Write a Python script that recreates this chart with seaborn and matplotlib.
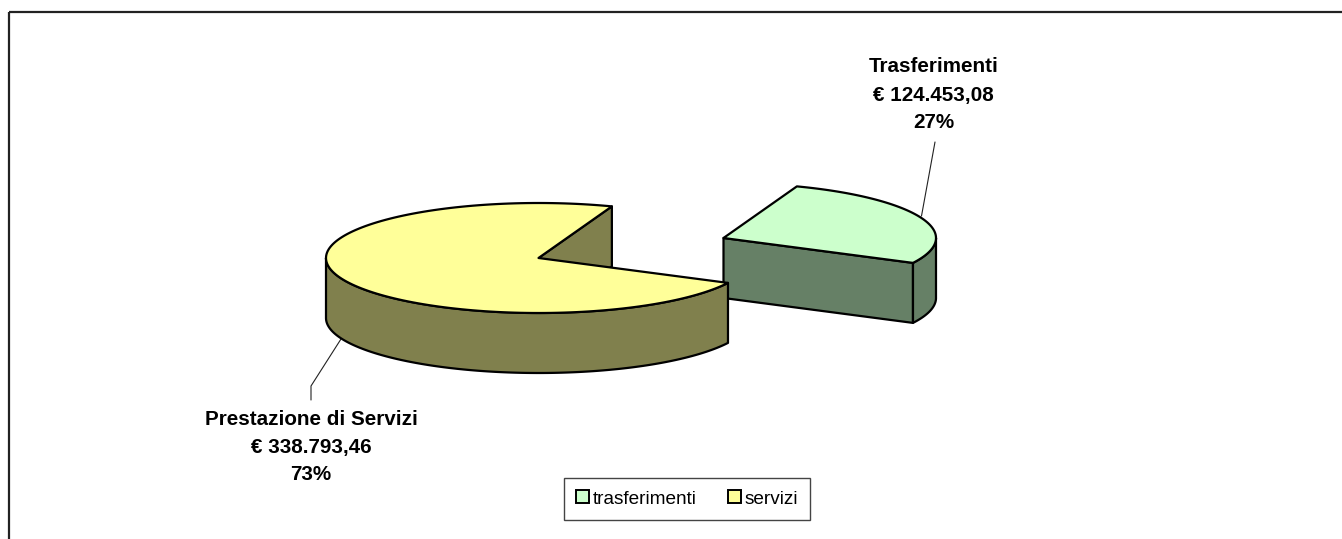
import numpy as np
import seaborn as sns
import matplotlib.pyplot as plt
from matplotlib.colors import to_rgb
from matplotlib.patches import Patch, Polygon, Rectangle

# dati
categorie = ['trasferimenti', 'servizi']
importi = [124453.08, 338793.46]
etichette = ['Trasferimenti', 'Prestazione di Servizi']
importi_txt = ['€ 124.453,08', '€ 338.793,46']
percentuali = ['27%', '73%']
colori = ['#CCFFCC', '#FFFF99']

sns.set_theme(style='white')
plt.rcParams['font.family'] = ['Liberation Sans', 'DejaVu Sans']

# geometria della torta (pixel)
CX, CY = 538.5, 258
A, B = 212.5, 55
ALTEZZA = 60
ESPLOSO = (185, -20)
START = 69.8
LW = 1.6


def arco(cx, cy, t0, t1, n=160):
    t = np.radians(np.linspace(t0, t1, n))
    return np.column_stack([cx + A * np.cos(t), cy - B * np.sin(t)])


def fetta(ax, cx, cy, t0, t1, colore, z):
    # t0 -> t1 in senso antiorario
    ombra = tuple(v * 0.5 for v in to_rgb(colore))
    kw = dict(edgecolor='black', linewidth=LW, joinstyle='round', zorder=z)
    # parete del taglio su t0, l'unica che si vede
    px, py = arco(cx, cy, t0, t0, 1)[0]
    ax.add_patch(Polygon([(cx, cy), (px, py), (px, py + ALTEZZA), (cx, cy + ALTEZZA)],
                         facecolor=ombra, **kw))
    # bordo esterno frontale (180-360 gradi)
    if t0 >= 0:
        a0, a1 = max(t0, 180), min(t1, 360)
    else:
        a0, a1 = t0, min(t1, 0)
    alto = arco(cx, cy, a0, a1)
    basso = alto + [0, ALTEZZA]
    ax.add_patch(Polygon(np.vstack([alto, basso[::-1]]), facecolor=ombra, **kw))
    # faccia superiore
    ax.add_patch(Polygon(np.vstack([[(cx, cy)], arco(cx, cy, t0, t1)]), facecolor=colore, **kw))


fig = plt.figure(figsize=(13.42, 5.39), dpi=100)
ax = fig.add_axes([0, 0, 1, 1])
ax.set_xlim(0, 1342)
ax.set_ylim(539, 0)
ax.axis('off')

# cornice del grafico, esce dall'immagine a destra e in basso
ax.add_patch(Rectangle((8.5, 12), 1400, 600, fill=False, edgecolor='#222222', linewidth=1.6, zorder=0))

gradi = [v / sum(importi) * 360 for v in importi]

# linee guida
ax.plot([921.5, 935, 935], [216, 142, 142], color='#222222', lw=0.8, zorder=1)
ax.plot([341, 311, 311], [339, 386, 400], color='#222222', lw=0.8, zorder=1)

# prima trasferimenti (dietro), poi servizi
fetta(ax, CX + ESPLOSO[0], CY + ESPLOSO[1], START - gradi[0], START, colori[0], 2)
fetta(ax, CX, CY, START, START + gradi[1], colori[1], 3)

# etichette
pos = [(933.5, [67, 95, 123]), (311, [419.5, 447.5, 474.5])]
for i, (x, ys) in enumerate(pos):
    righe = [etichette[i], importi_txt[i], percentuali[i]]
    for y, r in zip(ys, righe):
        ax.text(x, y, r, ha='center', va='center', fontsize=14.9, fontweight='bold', color='black')

# legenda
handles = [Patch(facecolor=c, edgecolor='black', linewidth=1.4, label=l) for c, l in zip(colori, categorie)]
leg = ax.legend(handles=handles, ncol=2, loc='center', bbox_to_anchor=(687, 499),
                bbox_transform=ax.transData, fontsize=13.7, frameon=True, fancybox=False,
                edgecolor='#444444', framealpha=1, borderpad=0.64, handlelength=0.68,
                handleheight=0.68, handletextpad=0.2, columnspacing=1.62, labelcolor='black')
leg.get_frame().set_linewidth(1.0)

fig.savefig('out.png', dpi=100)
